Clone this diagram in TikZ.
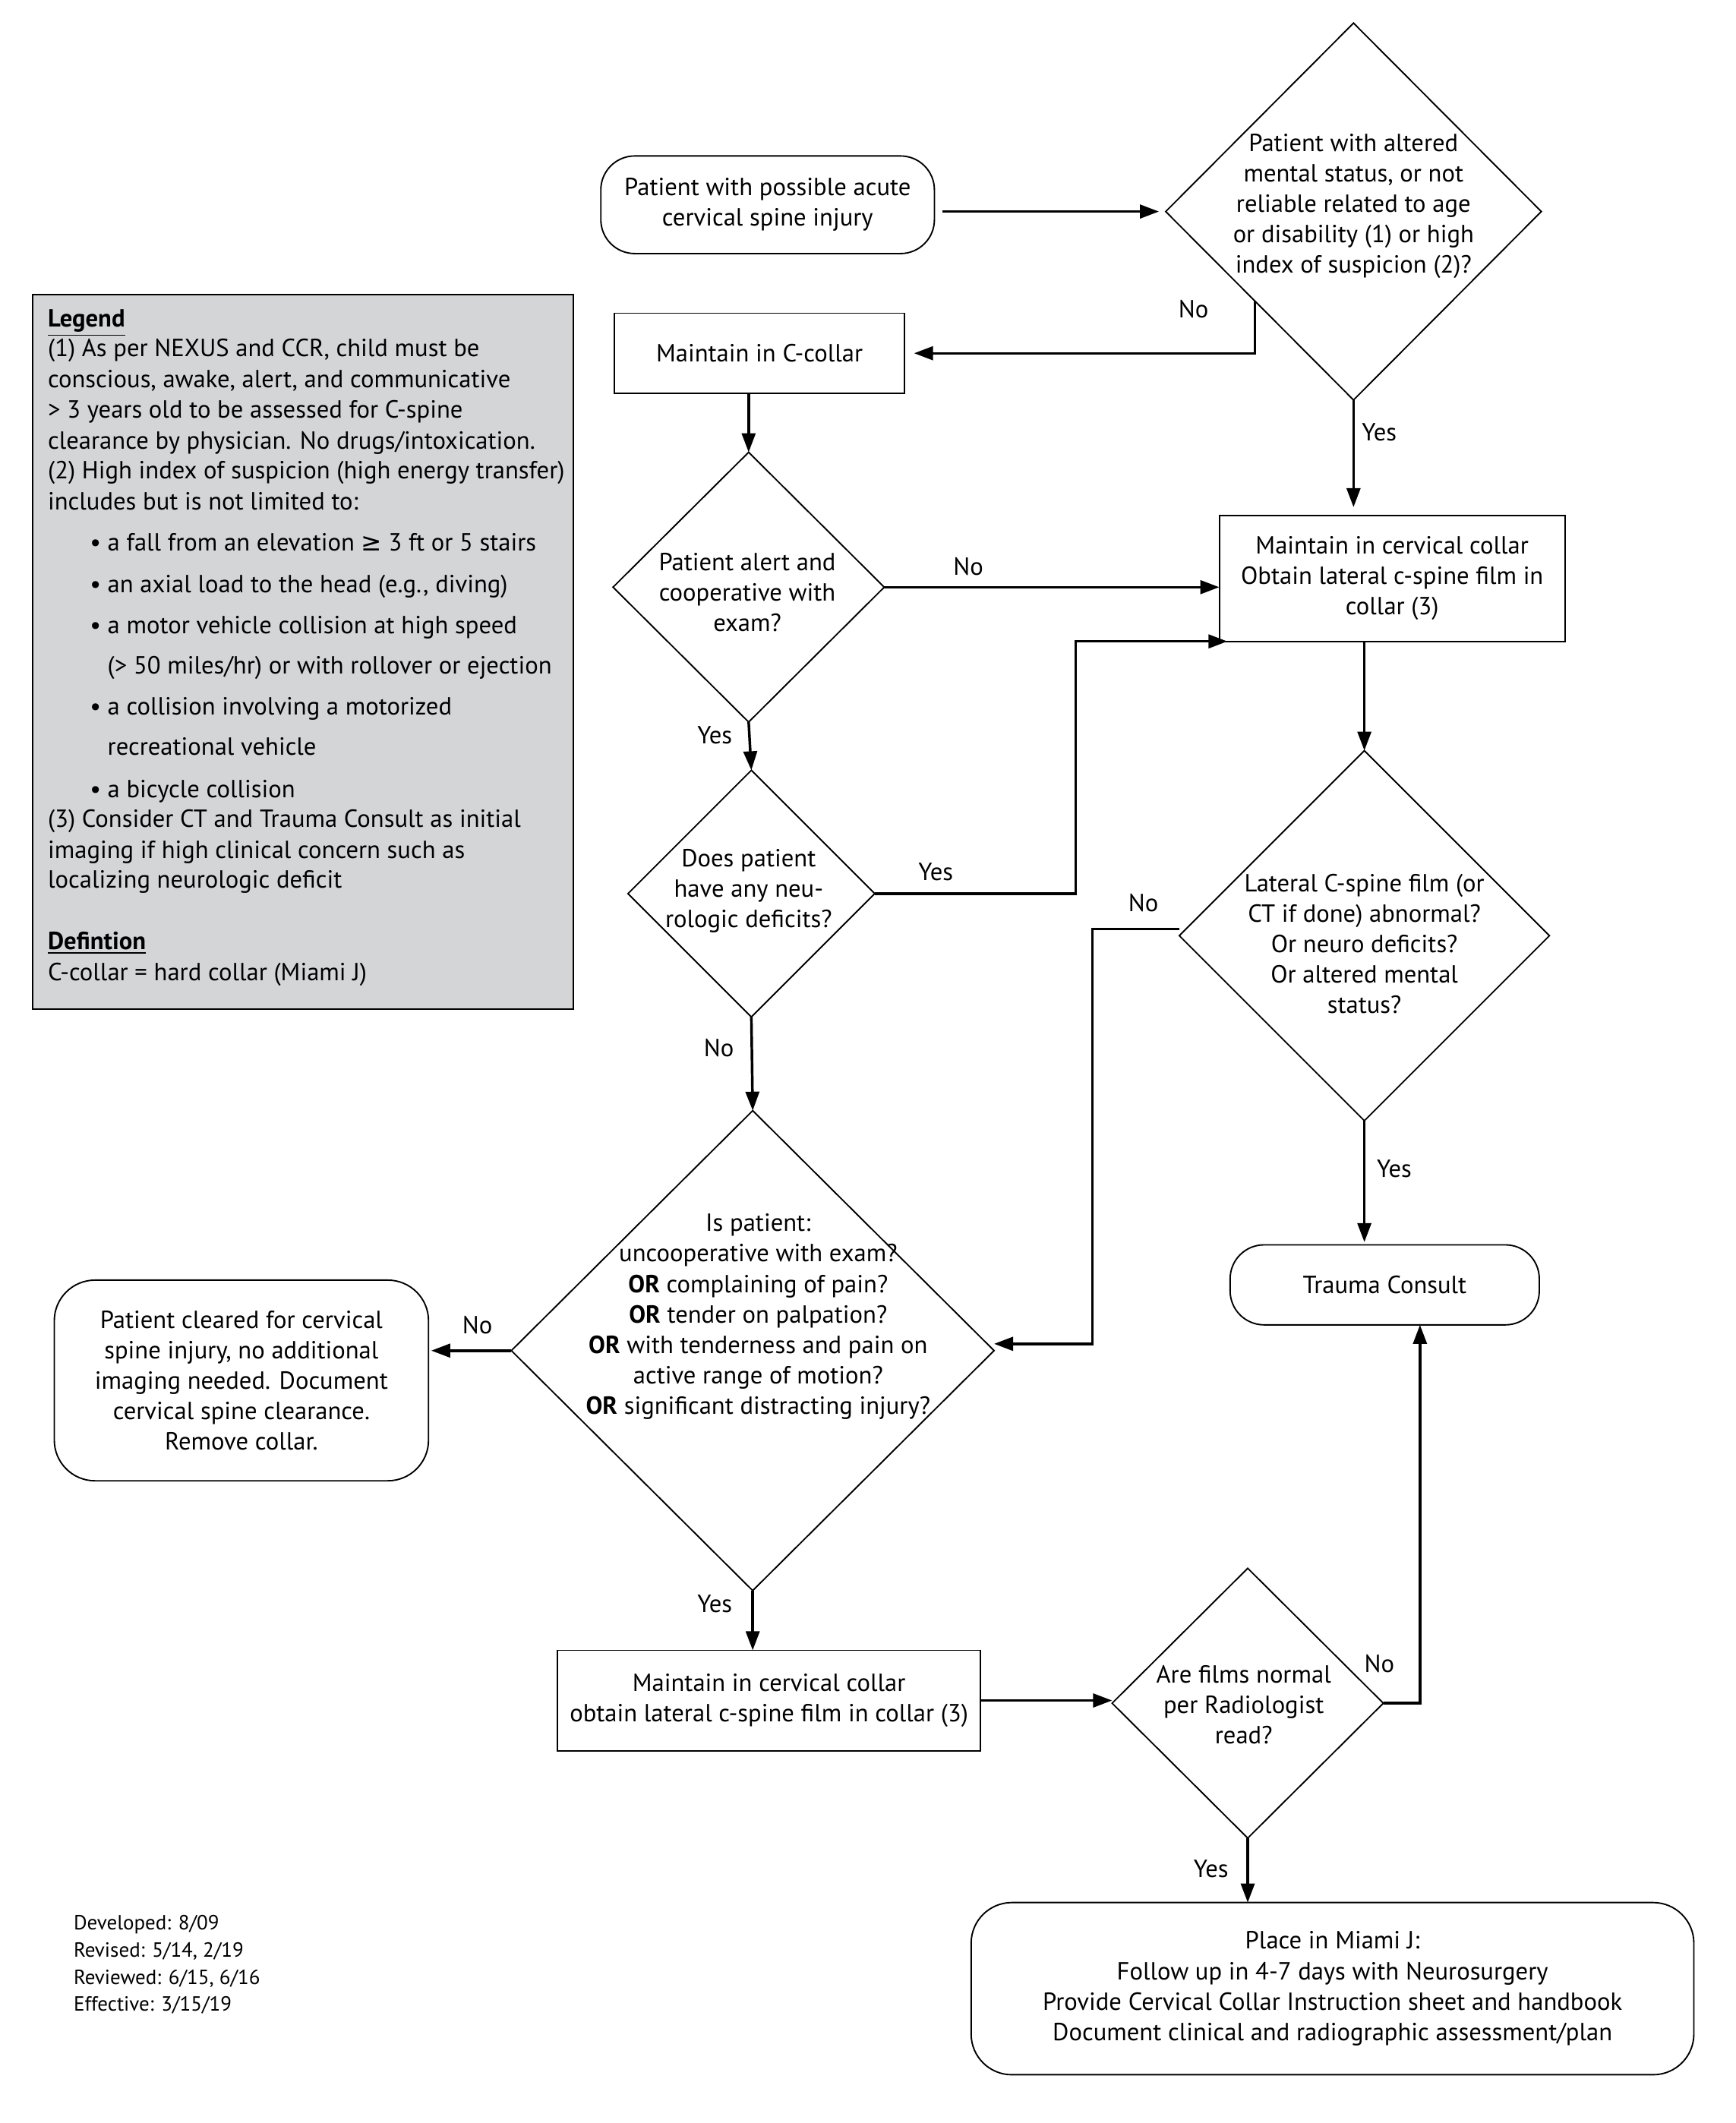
\documentclass[tikz,border=0pt]{standalone}
\usepackage{fontspec}
\setmainfont{PT Sans}
\newfontfamily\symf{DejaVu Sans}
\usetikzlibrary{shapes.geometric,arrows.meta,calc}
\newcommand\mainsz{\fontsize{10.4}{12.8}\selectfont}
\newcommand\footsz{\fontsize{8.6}{11.4}\selectfont}
\definecolor{leggray}{RGB}{212,213,215}
\begin{document}
\begin{tikzpicture}[x=0.02cm,y=-0.02cm,
  box/.style={draw, line width=0.6pt, align=center, inner sep=0pt, outer sep=0pt, font=\mainsz},
  rbox/.style={box, rounded corners=0.5cm},
  dia/.style={draw, diamond, line width=0.6pt, inner sep=0pt, outer sep=0pt},
  txt/.style={align=center, font=\mainsz, inner sep=0pt},
  lab/.style={font=\mainsz, inner sep=0pt},
  lg/.style={font=\mainsz, inner sep=0pt, anchor=base west},
  arr/.style={line width=1.1pt, -{Triangle[length=0.28cm,width=0.2cm]}}]
\useasboundingbox (0,0) rectangle (1280,1565.6);

% ---------- legend ----------
\node[draw, line width=0.6pt, fill=leggray, minimum width=7.98cm, minimum height=10.54cm, inner sep=0pt] (leg) at (223.5,480.5) {};
\node[lg] (l1) at (35,241) {\textbf{\underline{Legend}}};
\node[lg] (l2) at (35,263) {(1) As per NEXUS and CCR, child must be};
\node[lg] (l3) at (35,286) {conscious, awake, alert, and communicative};
\node[lg] (l4) at (35,308) {> 3 years old to be assessed for C-spine};
\node[lg] (l5) at (35,331) {clearance by physician. No drugs/intoxication.};
\node[lg] (l6) at (35,353) {(2) High index of suspicion (high energy transfer)};
\node[lg] (l7) at (35,376) {includes but is not limited to:};
\node[lg] (b1) at (66,406) {•};
\node[lg] (l8) at (79,406) {a fall from an elevation {\symf ≥} 3 ft or 5 stairs};
\node[lg] (b2) at (66,437) {•};
\node[lg] (l9) at (79,437) {an axial load to the head (e.g., diving)};
\node[lg] (b3b) at (66,467) {•};
\node[lg] (l10) at (79,467) {a motor vehicle collision at high speed};
\node[lg] (l11) at (79,497) {(> 50 miles/hr) or with rollover or ejection};
\node[lg] (b4) at (66,527) {•};
\node[lg] (l12) at (79,527) {a collision involving a motorized};
\node[lg] (l13) at (79,557) {recreational vehicle};
\node[lg] (b5) at (66,588) {•};
\node[lg] (l14) at (79,588) {a bicycle collision};
\node[lg] (l15) at (35,610) {(3) Consider CT and Trauma Consult as initial};
\node[lg] (l16) at (35,633) {imaging if high clinical concern such as};
\node[lg] (l17) at (35,655) {localizing neurologic deficit};
\node[lg] (l18) at (35,700) {\textbf{\underline{Defintion}}};
\node[lg] (l19) at (35,723) {C-collar = hard collar (Miami J)};

% ---------- footer ----------
\node[font=\footsz, align=left, anchor=north west, inner sep=0pt] (foot) at (54,1412)
  {Developed: 8/09\\Revised: 5/14, 2/19\\Reviewed: 6/15, 6/16\\Effective: 3/15/19};

% ---------- boxes ----------
\node[rbox, minimum width=4.92cm, minimum height=1.44cm] (start) at (566,151)
  {Patient with possible acute\\cervical spine injury};
\node[box, minimum width=4.28cm, minimum height=1.18cm] (cc) at (560,260.5) {Maintain in C-collar};
\node[box, minimum width=5.10cm, minimum height=1.86cm] (b3) at (1026.5,426.5)
  {Maintain in cervical collar\\Obtain lateral c-spine film in\\collar (3)};
\node[rbox, rounded corners=0.6cm, minimum width=5.52cm, minimum height=2.96cm] (cl) at (178,1018)
  {Patient cleared for cervical\\spine injury, no additional\\imaging needed. Document\\cervical spine clearance.\\Remove collar.};
\node[box, minimum width=6.24cm, minimum height=1.48cm] (b6) at (567,1254)
  {Maintain in cervical collar\\obtain lateral c-spine film in collar (3)};
\node[rbox, minimum width=4.56cm, minimum height=1.18cm] (tc) at (1021,947.5) {Trauma Consult};
\node[rbox, rounded corners=0.6cm, minimum width=10.66cm, minimum height=2.54cm] (fin) at (982.5,1466.5)
  {Place in Miami J:\\Follow up in 4-7 days with Neurosurgery\\Provide Cervical Collar Instruction sheet and handbook\\Document clinical and radiographic assessment/plan};

% ---------- diamonds ----------
\node[dia, minimum width=5.54cm, minimum height=5.56cm] (d1) at (998,156) {};
\node[txt] (t1) at (998,152) {Patient with altered\\mental status, or not\\reliable related to age\\or disability (1) or high\\index of suspicion (2)?};
\node[dia, minimum width=4.0cm, minimum height=3.98cm] (d2) at (552,433) {};
\node[txt] (t2) at (551,437) {Patient alert and\\cooperative with\\exam?};
\node[dia, minimum width=3.64cm, minimum height=3.64cm] (d3) at (554,659) {};
\node[txt] (t3) at (552,657) {Does patient\\have any neu-\\rologic deficits?};
\node[dia, minimum width=7.12cm, minimum height=7.08cm] (d4) at (555,996) {};
\node[txt] (t4) at (559,971) {Is patient:\\uncooperative with exam?\\\textbf{OR} complaining of pain?\\\textbf{OR} tender on palpation?\\\textbf{OR} with tenderness and pain on\\active range of motion?\\\textbf{OR} significant distracting injury?};
\node[dia, minimum width=5.46cm, minimum height=5.46cm] (d5) at (1006,690) {};
\node[txt] (t5) at (1006,696) {Lateral C-spine film (or\\CT if done) abnormal?\\Or neuro deficits?\\Or altered mental\\status?};
\node[dia, minimum width=4.0cm, minimum height=3.98cm] (d6) at (920,1256) {};
\node[txt] (t6) at (917,1257) {Are films normal\\per Radiologist\\read?};

% ---------- connectors ----------
\draw[arr, shorten <=0.12cm, shorten >=0.1cm] (start.east |- d1.west) -- (d1.west);
\coordinate (d1n) at ($(d1.west)!0.475!(d1.south)$);
\draw[arr, shorten >=0.14cm] (d1n) |- (cc.east);
\draw[arr] (d2.north |- cc.south) -- (d2.north);
\draw[arr, shorten >=0.12cm] (d1.south) -- (d1.south |- b3.north);
\draw[arr] (d2.east) -- (b3.west |- d2.east);
\draw[arr] (d2.south) -- (d3.north);
\coordinate (j1) at (793,0);
\draw[arr] (d3.east) -| (j1 |- b3.south west) -- ($(b3.south west)+(6,0)$);
\draw[arr] (d3.south) -- (d4.north);
\draw[arr, shorten >=0.04cm] (d4.west) -- (cl.east |- d4.west);
\draw[arr] (d4.south) -- (d4.south |- b6.north);
\draw[arr] ($(d5.west)+(0,-5)$) -- ++(-64,0) |- ($(d4.east)+(0,-5)$);
\draw[arr] (d5.north |- b3.south) -- (d5.north);
\draw[arr, shorten >=0.04cm] (d5.south) -- (d5.south |- tc.north);
\draw[arr] (b6.east) -- (d6.west |- b6.east);
\draw[arr] (d6.east) -| ($(tc.south)+(26,0)$);
\draw[arr] (d6.south) -- (d6.south |- fin.north);

% ---------- labels ----------
\node[lab] (n1) at (880,228) {No};
\node[lab] (y1) at (1017,319) {Yes};
\node[lab] (n2) at (714,418) {No};
\node[lab] (y2) at (527,542) {Yes};
\node[lab] (y3) at (690,643) {Yes};
\node[lab] (n3) at (530,773) {No};
\node[lab] (n5) at (843,666) {No};
\node[lab] (y5) at (1028,862) {Yes};
\node[lab] (n4) at (352,977) {No};
\node[lab] (y4) at (527,1183) {Yes};
\node[lab] (n6) at (1017,1227) {No};
\node[lab] (y6) at (893,1378) {Yes};
\end{tikzpicture}
\end{document}
